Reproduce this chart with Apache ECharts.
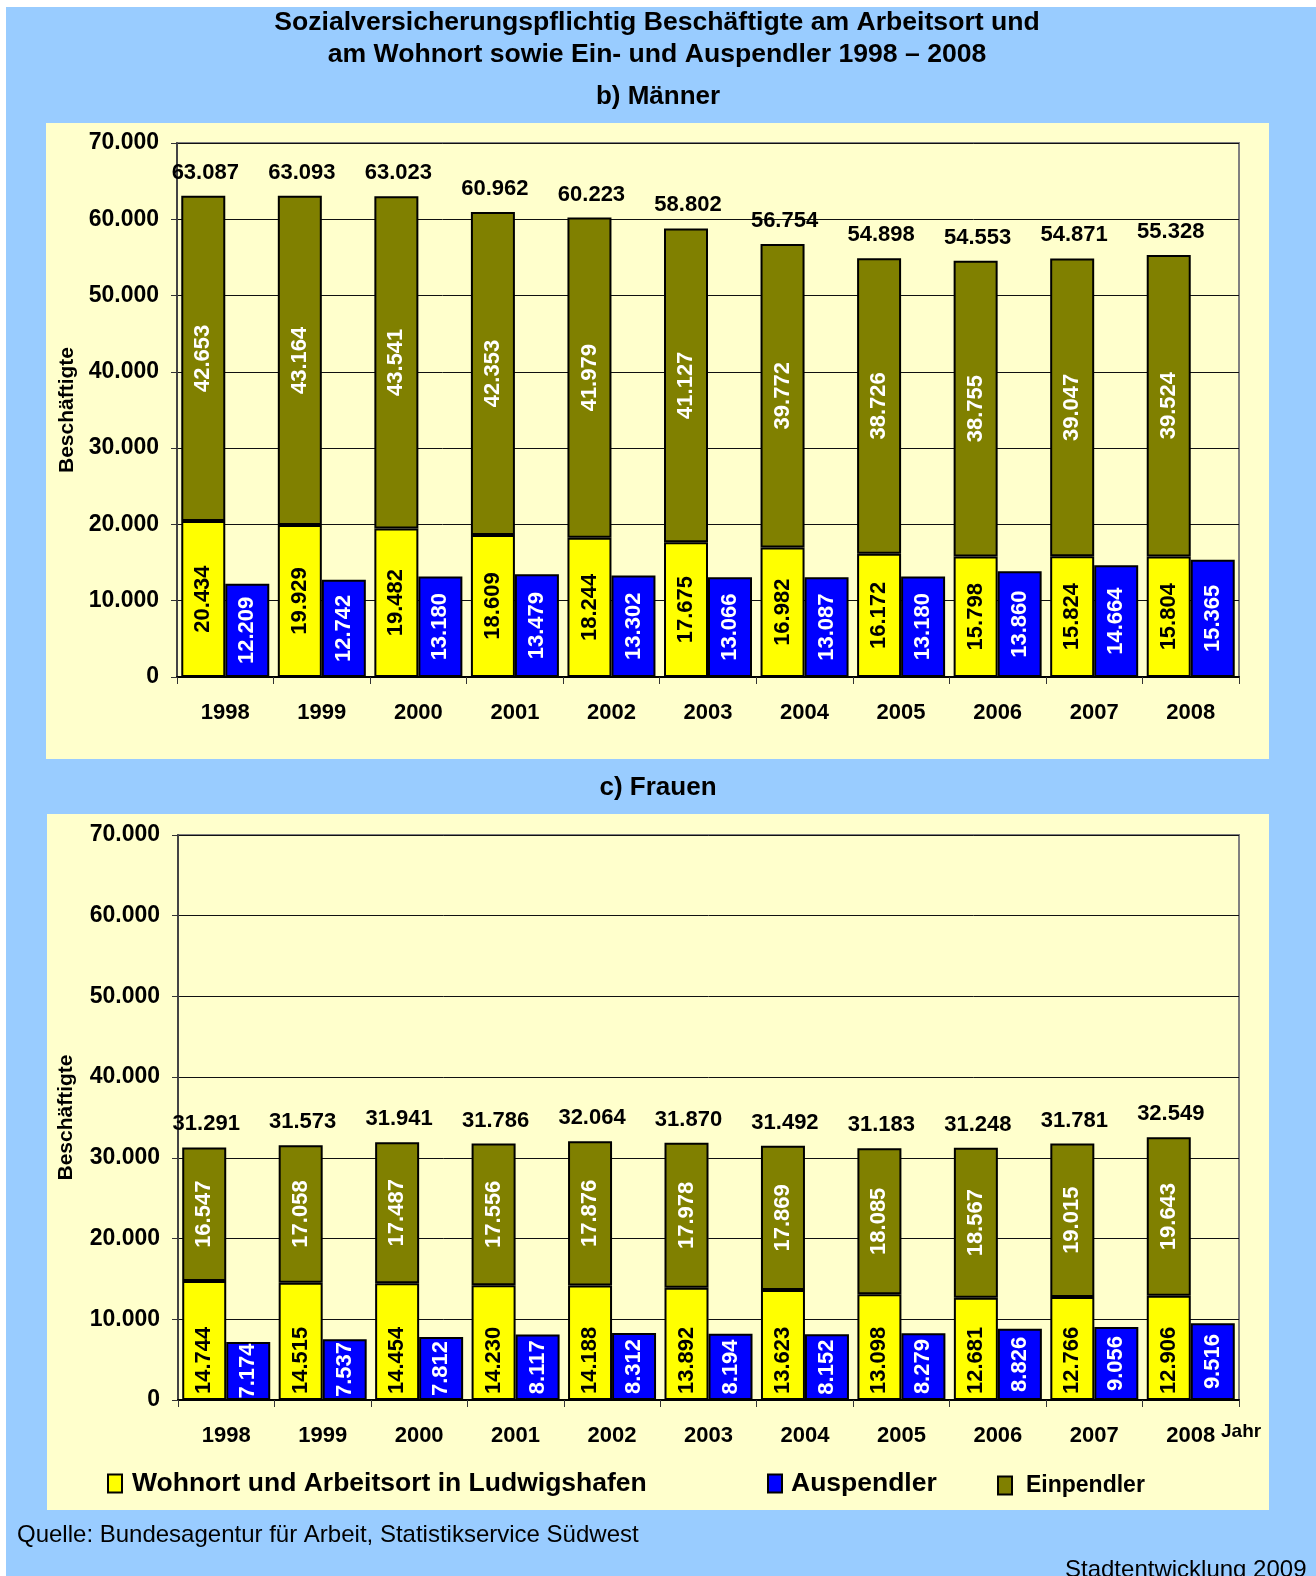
<!DOCTYPE html>
<html>
<head>
<meta charset="utf-8">
<script src="https://cdn.jsdelivr.net/npm/echarts@6/dist/echarts.min.js"></script>
<style>
  html, body { margin: 0; padding: 0; background: #fff; }
  #chart { width: 1316px; height: 1576px; }
</style>
</head>
<body>
<div id="chart"></div>
<script>
// Jahre
var years = ['1998', '1999', '2000', '2001', '2002', '2003', '2004', '2005', '2006', '2007', '2008'];
var yTicks = [0, 10000, 20000, 30000, 40000, 50000, 60000, 70000];

// b) Männer
var menWohnort = [20434, 19929, 19482, 18609, 18244, 17675, 16982, 16172, 15798, 15824, 15804];
var menEinpendler = [42653, 43164, 43541, 42353, 41979, 41127, 39772, 38726, 38755, 39047, 39524];
var menAuspendler = [12209, 12742, 13180, 13479, 13302, 13066, 13087, 13180, 13860, 14664, 15365];

// c) Frauen
var womenWohnort = [14744, 14515, 14454, 14230, 14188, 13892, 13623, 13098, 12681, 12766, 12906];
var womenEinpendler = [16547, 17058, 17487, 17556, 17876, 17978, 17869, 18085, 18567, 19015, 19643];
var womenAuspendler = [7174, 7537, 7812, 8117, 8312, 8194, 8152, 8279, 8826, 9056, 9516];

var FONT = '"Liberation Sans", Arial, sans-serif';
var C_YELLOW = '#FFFF00', C_OLIVE = '#808000', C_BLUE = '#0000FF';

// 12345 -> "12.345"
function fmt(v) {
	return String(Math.round(v)).replace(/\B(?=(\d{3})+(?!\d))/g, '.');
}
function sumArr(a, b) {
	return a.map(function (v, i) { return v + b[i]; });
}

var chart = echarts.init(document.getElementById('chart'));

function xAxisFor(idx) {
	return {
		type: 'category', gridIndex: idx, data: years,
		axisLine: { lineStyle: { color: '#000', width: 2 } },
		axisTick: { show: true, length: 7, lineStyle: { color: '#333', width: 1 } },
		axisLabel: { color: '#000', fontFamily: FONT, fontWeight: 'bold', fontSize: 22, margin: 25 },
		splitLine: { show: false }
	};
}
function yAxisFor(idx, nameGap) {
	return {
		type: 'value', gridIndex: idx, min: yTicks[0], max: yTicks[yTicks.length - 1], interval: yTicks[1] - yTicks[0],
		name: 'Beschäftigte', nameLocation: 'middle', nameRotate: 90, nameGap: nameGap,
		nameTextStyle: { color: '#000', fontFamily: FONT, fontWeight: 'bold', fontSize: 21 },
		axisLine: { show: true, lineStyle: { color: '#444', width: 2 } },
		axisTick: { show: true, length: 6, lineStyle: { color: '#333' } },
		axisLabel: { color: '#000', fontFamily: FONT, fontWeight: 'bold', fontSize: 23, margin: 18,
			formatter: function (v) { return fmt(v); } },
		splitLine: { show: true, lineStyle: { color: '#111', width: 1 } }
	};
}

var BW = 44;
var border = { borderColor: '#000', borderWidth: 2 };

function insideLabel(color, pos) {
	var l = { show: true, rotate: 90, color: color, fontFamily: FONT, fontWeight: 'bold', fontSize: 22,
		formatter: function (p) { return fmt(p.value); } };
	if (pos === 'bottom') {
		l.position = 'insideBottom'; l.distance = 6; l.align = 'left'; l.verticalAlign = 'middle';
	} else {
		l.position = 'inside';
	}
	return l;
}

function seriesFor(idx, wohn, ein, aus, wohnPos) {
	var stack = 'st' + idx;
	return [
		{
			name: 'Wohnort und Arbeitsort in Ludwigshafen', type: 'bar', stack: stack,
			xAxisIndex: idx, yAxisIndex: idx, data: wohn, barWidth: BW, barGap: '0%',
			itemStyle: Object.assign({ color: C_YELLOW }, border),
			label: insideLabel('#000', wohnPos)
		},
		{
			name: 'Einpendler', type: 'bar', stack: stack,
			xAxisIndex: idx, yAxisIndex: idx, data: ein, barWidth: BW, barGap: '0%',
			itemStyle: Object.assign({ color: C_OLIVE }, border),
			label: insideLabel('#fff', 'center')
		},
		{
			name: 'Auspendler', type: 'bar',
			xAxisIndex: idx, yAxisIndex: idx, data: aus, barWidth: BW, barGap: '0%',
			itemStyle: Object.assign({ color: C_BLUE }, border),
			label: insideLabel('#fff', 'center')
		},
		{
			// Summe über dem gestapelten Balken
			name: 'Summe', type: 'scatter', xAxisIndex: idx, yAxisIndex: idx,
			data: sumArr(wohn, ein), symbolSize: 0, silent: true,
			itemStyle: { color: '#000' },
			label: { show: true, position: 'top', distance: 12, offset: [-20, 0], opacity: 1,
				color: '#000', fontFamily: FONT, fontWeight: 'bold', fontSize: 22,
				textBorderWidth: 0,
				formatter: function (p) { return fmt(p.value); } },
			z: 5
		}
	];
}

function legendFor(name, left, top, size, gap) {
	return {
		data: [name], left: left, top: top, padding: 0, icon: 'rect', itemWidth: 14, itemHeight: 18,
		selectedMode: false,
		textStyle: { color: '#000', fontFamily: FONT, fontWeight: 'bold', fontSize: size, padding: [0, 0, 0, gap] }
	};
}

var option = {
	backgroundColor: '#fff',
	animation: false,
	graphic: [
		{ type: 'rect', left: 6, top: 7, shape: { width: 1310, height: 1569 }, style: { fill: '#99CCFF' }, z: -10 },
		{ type: 'rect', left: 46, top: 123, shape: { width: 1223, height: 636 }, style: { fill: '#FFFFCC' }, z: -9 },
		{ type: 'rect', left: 47, top: 814, shape: { width: 1222, height: 696 }, style: { fill: '#FFFFCC' }, z: -9 },
		{ type: 'group', children: [
			{ type: 'text', x: 657, y: 23, silent: true,
				style: { text: 'Sozialversicherungspflichtig Beschäftigte am Arbeitsort und', fill: '#000',
					font: 'bold 26.6px ' + FONT, textAlign: 'center', textVerticalAlign: 'middle' } },
			{ type: 'text', x: 657, y: 55, silent: true,
				style: { text: 'am Wohnort sowie Ein- und Auspendler 1998 – 2008', fill: '#000',
					font: 'bold 26.6px ' + FONT, textAlign: 'center', textVerticalAlign: 'middle' } },
			{ type: 'text', x: 658, y: 97, silent: true,
				style: { text: 'b) Männer', fill: '#000', font: 'bold 26px ' + FONT,
					textAlign: 'center', textVerticalAlign: 'middle' } },
			{ type: 'text', x: 658, y: 788, silent: true,
				style: { text: 'c) Frauen', fill: '#000', font: 'bold 26px ' + FONT,
					textAlign: 'center', textVerticalAlign: 'middle' } },
			{ type: 'text', x: 1221, y: 1432, silent: true,
				style: { text: 'Jahr', fill: '#000', font: 'bold 19px ' + FONT, textVerticalAlign: 'middle' } },
			{ type: 'text', x: 17, y: 1535, silent: true,
				style: { text: 'Quelle: Bundesagentur für Arbeit, Statistikservice Südwest', fill: '#000',
					font: '24px ' + FONT, textVerticalAlign: 'middle' } },
			{ type: 'text', x: 1065, y: 1570, silent: true,
				style: { text: 'Stadtentwicklung 2009', fill: '#000',
					font: '24px ' + FONT, textVerticalAlign: 'middle' } }
		] }
	],
	grid: [
		{ left: 177, top: 143, width: 1062, height: 534, show: true, borderColor: '#808080', borderWidth: 2, backgroundColor: 'transparent' },
		{ left: 178, top: 835, width: 1061, height: 565, show: true, borderColor: '#808080', borderWidth: 2, backgroundColor: 'transparent' }
	],
	xAxis: [xAxisFor(0), xAxisFor(1)],
	yAxis: [yAxisFor(0, 91), yAxisFor(1, 101)],
	legend: [
		legendFor('Wohnort und Arbeitsort in Ludwigshafen', 107, 1470, 26.5, 5),
		legendFor('Auspendler', 767, 1470, 26.5, 4),
		legendFor('Einpendler', 997, 1474, 23, 9)
	],
	series: [].concat(
		seriesFor(0, menWohnort, menEinpendler, menAuspendler, 'center'),
		seriesFor(1, womenWohnort, womenEinpendler, womenAuspendler, 'bottom')
	)
};

chart.setOption(option);
</script>
</body>
</html>
